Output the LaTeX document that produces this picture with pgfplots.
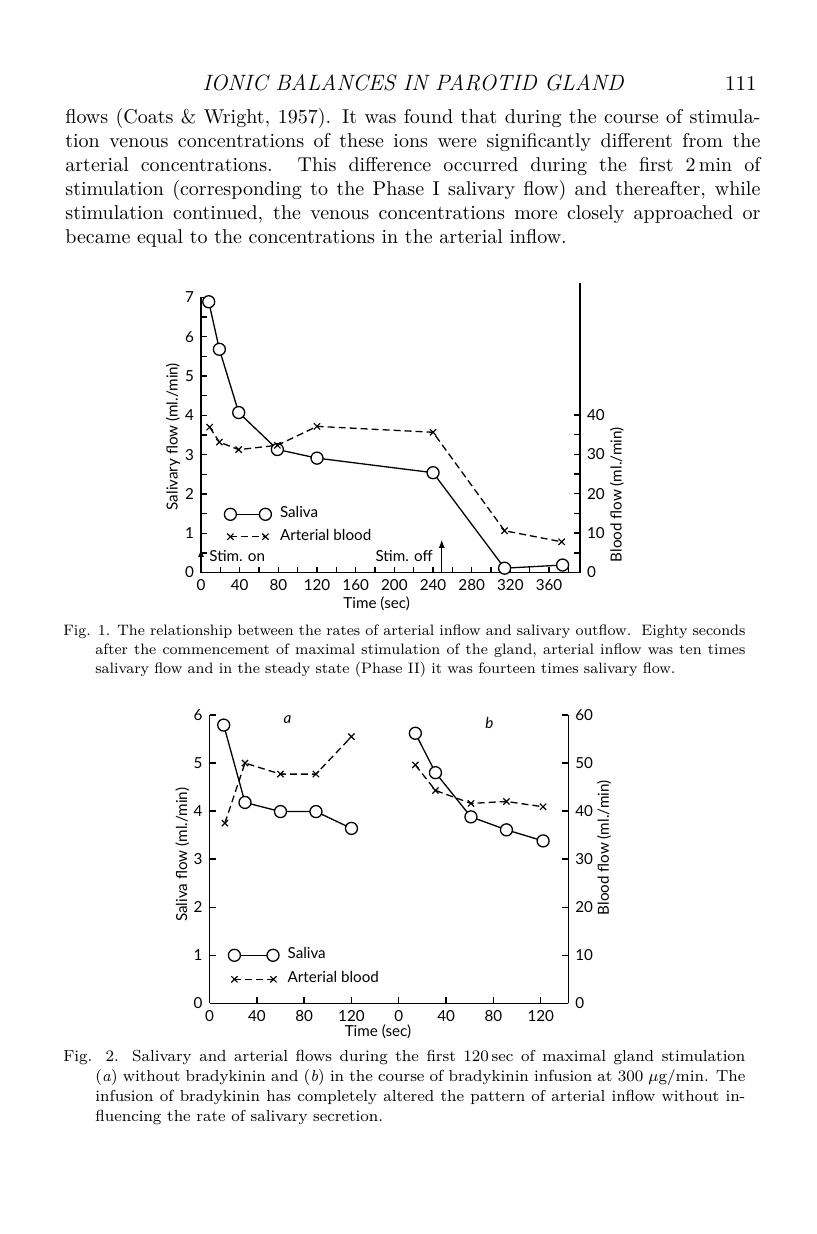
\documentclass[border=0pt]{standalone}
\usepackage{fontspec}
\usepackage{pgfplots}
\pgfplotsset{compat=1.18}
\usetikzlibrary{arrows.meta}
\newfontfamily\figfont{Lato}
\newcommand{\ff}{\figfont\fontsize{7.6}{9}\selectfont}

\pgfplotsset{
  pg/.style={scale only axis, tick align=inside, major tick length=3pt, minor tick length=3pt,
    axis line style={line width=0.8pt}, tick style={black, line width=0.7pt},
    tick label style={font=\ff}, label style={font=\ff},
    /pgf/number format/assume math mode=true, clip=false},
  sal/.style={black, line width=0.65pt, mark=*, mark size=3pt, mark options={solid, fill=white}},
  art/.style={black, line width=0.65pt, dash pattern=on 3.5pt off 2pt, mark=x, mark size=2.2pt, mark options={solid, line width=0.6pt}},
  ends legend/.style={legend image code/.code={\draw[mark repeat=1,##1] plot coordinates {(0pt,0pt) (#1,0pt)};}},
  leg/.style={legend cell align=left,
    legend style={draw=none, fill=none, inner sep=0pt, font=\ff, row sep=0pt,
      nodes={text height=5pt, text depth=1.5pt, inner ysep=2.35pt, inner xsep=2.3pt},
      /tikz/every odd column/.style={column sep=2pt}}},
}

\begin{document}
\begin{tikzpicture}[x=0.5pt,y=-0.5pt]
\useasboundingbox (0,0) rectangle (816,1234);
\fill[white] (0,0) rectangle (816,1234);

% running head and text
\node[anchor=base, inner sep=0pt, font=\fontsize{11.1}{12}\selectfont\itshape] at (413,91) {IONIC BALANCES IN PAROTID GLAND};
\node[anchor=base east, inner sep=0pt, font=\fontsize{10.5}{12}\selectfont] at (757,91) {111};
\node[anchor=base west, inner sep=0pt] at (65,124) {\parbox[t]{347.5pt}{\fontsize{10}{12}\selectfont\noindent
flows (Coats \& Wright, 1957). It was found that during the course of stimula-\linebreak
tion venous concentrations of these ions were significantly different from the\linebreak
arterial concentrations. This difference occurred during the first 2\,min of\linebreak
stimulation (corresponding to the Phase I salivary flow) and thereafter, while\linebreak
stimulation continued, the venous concentrations more closely approached or\linebreak
became equal to the concentrations in the arterial inflow.}};

% Fig. 1
\coordinate (f1) at (201,572.5);
\begin{axis}[pg, leg, at={(f1)}, anchor=south west, width=189.5pt, height=137.55pt,
  xmin=0, xmax=392, ymin=0, ymax=7, axis x line*=bottom, axis y line*=left,
  xtick={0,40,...,360}, minor xtick={20,60,...,380},
  ytick={0,...,7}, minor ytick={0.5,1.5,...,6.5},
  xlabel={Time (sec)}, ylabel={Salivary flow (ml./min)},
  xlabel style={at={(axis description cs:0.4636,-0.112)}, anchor=center},
  ylabel style={at={(axis description cs:-0.074,0.494)}, anchor=center},
  legend style={at={(axis description cs:0.0607,0.1708)}, anchor=west}]
\addplot[sal, ends legend=17.5pt] coordinates {(8,6.89) (19,5.68) (39,4.07) (79,3.13) (120,2.91) (240,2.54) (314,0.11) (374,0.19)};
\addlegendentry{Saliva}
\addlegendimage{art, ends legend=17.5pt}
\addlegendentry{Arterial blood}
\draw[-{Latex[length=4pt,width=3pt]}, line width=0.6pt] (axis cs:249,0) -- (axis cs:249,0.83);
\draw[-{Latex[length=4pt,width=3pt]}, line width=0.6pt] (axis cs:0,0.2) -- (axis cs:0,0.6);
\node[font=\ff, anchor=west, inner sep=0pt] at (axis cs:8.3,0.43) {Stim. on};
\node[font=\ff, anchor=east, inner sep=0pt] at (axis cs:240,0.43) {Stim. off};
\end{axis}
\begin{axis}[pg, at={(f1)}, anchor=south west, width=189.5pt, height=144.75pt,
  xmin=0, xmax=392, ymin=0, ymax=73.5, axis x line=none, axis y line*=right,
  ytick={0,10,...,40}, minor ytick={5,15,25,35},
  ylabel={Blood flow (ml./min)},
  ylabel style={at={(axis description cs:1.097,0.268)}, anchor=center}]
\addplot[art] coordinates {(9,36.9) (19,33.1) (39,31.2) (79,32.3) (120,37.1) (240,35.6) (314,10.6) (373,7.8)};
\end{axis}

\node[anchor=base west, inner sep=0pt] at (63,635) {\parbox[t]{341pt}{\fontsize{7.55}{9.5}\selectfont\noindent\hangindent=16pt\hangafter=1
Fig. 1. The relationship between the rates of arterial inflow and salivary outflow.\ \ Eighty seconds\linebreak
after the commencement of maximal stimulation of the gland, arterial inflow was ten times\linebreak
salivary flow and in the steady state (Phase II) it was fourteen times salivary flow.}};

% Fig. 2 (panel b plotted at 160 + t)
\coordinate (f2) at (209.5,1003.3);
\begin{axis}[pg, leg, at={(f2)}, anchor=south west, width=179.4pt, height=144.15pt,
  xmin=0, xmax=303.3, ymin=0, ymax=6, axis x line*=bottom, axis y line*=left,
  xtick={0,40,...,280}, xticklabels={0,40,80,120,0,40,80,120},
  ytick={0,...,6},
  xlabel={Time (sec)}, ylabel={Saliva flow (ml./min)},
  xlabel style={at={(axis description cs:0.4696,-0.098)}, anchor=center},
  ylabel style={at={(axis description cs:-0.076,0.515)}, anchor=center},
  legend style={at={(axis description cs:0.0516,0.1249)}, anchor=west, nodes={text height=5.4pt, text depth=1.9pt}}]
\addplot[sal, ends legend=19.3pt] coordinates {(12,5.79) (30,4.18) (60,3.99) (90,3.99) (120,3.64)};
\addlegendentry{Saliva}
\addlegendimage{art, ends legend=19.5pt}
\addlegendentry{Arterial blood}
\addplot[sal, forget plot] coordinates {(174,5.62) (191,4.8) (221,3.88) (251,3.61) (282,3.38)};
\node[font=\ff\itshape] at (axis cs:66,5.91) {a};
\node[font=\ff\itshape] at (axis cs:236.5,5.84) {b};
\end{axis}
\begin{axis}[pg, at={(f2)}, anchor=south west, width=179.4pt, height=144.15pt,
  xmin=0, xmax=303.3, ymin=0, ymax=60, axis x line=none, axis y line*=right,
  ytick={0,10,...,60},
  ylabel={Blood flow (ml./min)},
  ylabel style={at={(axis description cs:1.1,0.539)}, anchor=center}]
\addplot[art] coordinates {(13,37.5) (30,50) (60,47.7) (90,47.7) (120,55.5)};
\addplot[art] coordinates {(174,49.6) (191,44.3) (221,41.6) (251,42) (282,40.9)};
\end{axis}

\node[anchor=base west, inner sep=0pt] at (63,1061) {\parbox[t]{341pt}{\fontsize{8}{10}\selectfont\noindent\hangindent=16pt\hangafter=1
Fig. 2. Salivary and arterial flows during the first 120\,sec of maximal gland stimulation\linebreak
(\textit{a}) without bradykinin and (\textit{b}) in the course of bradykinin infusion at 300 $\mu$g/min. The\linebreak
infusion of bradykinin has completely altered the pattern of arterial inflow without in-\linebreak
fluencing the rate of salivary secretion.}};
\end{tikzpicture}
\end{document}
